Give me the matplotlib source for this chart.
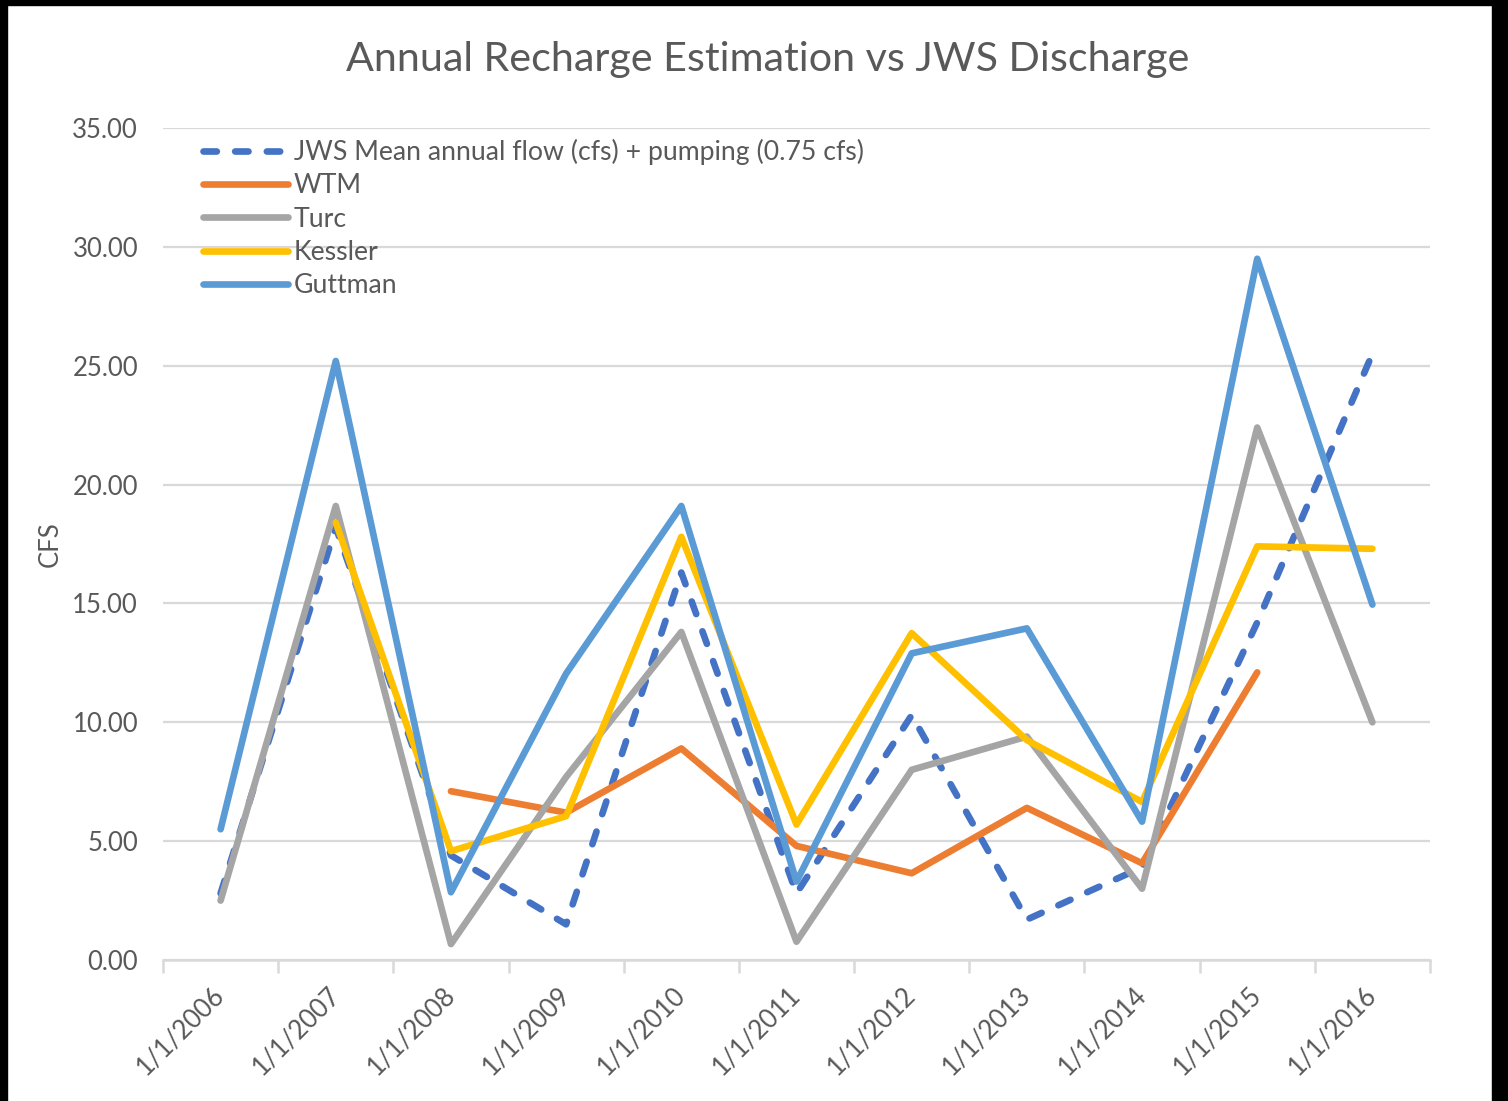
import numpy as np
import matplotlib
matplotlib.use("Agg")
import matplotlib.pyplot as plt
from matplotlib.patches import Rectangle

categories = ["1/1/2006", "1/1/2007", "1/1/2008", "1/1/2009", "1/1/2010", "1/1/2011",
              "1/1/2012", "1/1/2013", "1/1/2014", "1/1/2015", "1/1/2016"]
jws = [2.8, 18.2, 4.4, 1.5, 16.3, 2.8, 10.3, 1.7, 3.9, 14.2, 25.5]
wtm = [np.nan, np.nan, 7.1, 6.2, 8.9, 4.8, 3.65, 6.4, 4.07, 12.1, np.nan]
turc = [2.5, 19.1, 0.67, 7.7, 13.8, 0.77, 8.0, 9.4, 3.0, 22.4, 10.0]
kessler = [np.nan, 18.4, 4.58, 6.05, 17.8, 5.7, 13.75, 9.25, 6.65, 17.4, 17.3]
guttman = [5.5, 25.2, 2.85, 12.05, 19.1, 3.3, 12.9, 13.95, 5.82, 29.5, 14.95]
yticks = [0, 5, 10, 15, 20, 25, 30, 35]

plt.rcParams['font.family'] = ['Lato', 'DejaVu Sans']
W, H = 1508, 1101
fig = plt.figure(figsize=(W / 100, H / 100), dpi=100)
fig.patch.set_facecolor('white')
ax = fig.add_axes([163 / W, 1 - 960 / H, (1430 - 163) / W, (960 - 128) / H])

x = np.arange(len(categories))
lw = 4.8
ax.plot(x, jws, color='#4472C4', lw=lw, dashes=(2.0, 2.75), dash_capstyle='round',
        solid_capstyle='round', label='JWS Mean annual flow (cfs) + pumping (0.75 cfs)', zorder=3)
ax.plot(x, wtm, color='#ED7D31', lw=lw, solid_capstyle='round', solid_joinstyle='round',
        label='WTM', zorder=4)
ax.plot(x, turc, color='#A5A5A5', lw=lw, solid_capstyle='round', solid_joinstyle='round',
        label='Turc', zorder=5)
ax.plot(x, kessler, color='#FFC000', lw=lw, solid_capstyle='round', solid_joinstyle='round',
        label='Kessler', zorder=6)
ax.plot(x, guttman, color='#5B9BD5', lw=lw, solid_capstyle='round', solid_joinstyle='round',
        label='Guttman', zorder=7)

ax.set_xlim(-0.5, len(categories) - 0.5)
ax.set_ylim(0, 35)
ax.set_yticks(yticks)
ax.set_yticklabels([f"{v:.2f}" for v in yticks])
ax.grid(axis='y', color='#D9D9D9', lw=1.6, zorder=0)
ax.set_axisbelow(True)
for s in ['top', 'right', 'left']:
    ax.spines[s].set_visible(False)
ax.spines['bottom'].set_color('#D9D9D9')
ax.spines['bottom'].set_linewidth(1.8)
ax.spines['bottom'].set_zorder(1)

ax.set_xticks(x)
ax.set_xticks(np.arange(-0.5, len(categories)), minor=True)
ax.set_xticklabels(categories, rotation=45, ha='right', va='center', rotation_mode='anchor')
ax.tick_params(axis='x', which='major', length=0, pad=22, labelsize=18.5, labelcolor='#595959')
ax.tick_params(axis='x', which='minor', length=9, width=1.8, color='#D9D9D9')
ax.tick_params(axis='y', length=0, pad=18, labelsize=18.5, labelcolor='#595959')

ax.set_ylabel('CFS', fontsize=18.5, color='#595959', labelpad=7)
fig.text(768 / W, 1 - 59 / H, 'Annual Recharge Estimation vs JWS Discharge',
         ha='center', va='center', fontsize=29.7, color='#595959')

leg = ax.legend(loc='upper left', bbox_to_anchor=(40 / (1430 - 163), 1 - 11 / 832),
                frameon=False, fontsize=19.2, handlelength=3.2, handletextpad=0.2,
                labelspacing=0.31, borderaxespad=0, borderpad=0)
for t in leg.get_texts():
    t.set_color('#595959')

# black frame edges from the reference image
fig.patches.append(Rectangle((0, 0), 7 / W, 1, transform=fig.transFigure, color='black', zorder=10))
fig.patches.append(Rectangle((0, 1 - 5 / H), 1, 5 / H, transform=fig.transFigure, color='black', zorder=10))
fig.patches.append(Rectangle((1492 / W, 0), 16 / W, 1, transform=fig.transFigure, color='black', zorder=10))

fig.savefig('out.png', dpi=100)
